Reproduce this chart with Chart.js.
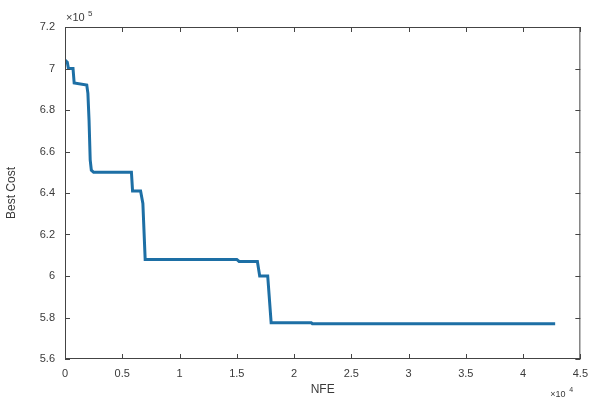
<!DOCTYPE html>
<html>
<head>
<meta charset="utf-8">
<script src="https://cdn.jsdelivr.net/npm/chart.js@4"></script>
<style>
  html, body { margin: 0; padding: 0; background: #fff; }
  #wrap { width: 596px; height: 401px; position: relative; }
</style>
</head>
<body>
<div id="wrap"><canvas id="costChart"></canvas></div>
<script>
// NFE in units of 1e4, best cost in units of 1e5
const nfe = [0, 0.02, 0.03, 0.07, 0.08, 0.19, 0.20, 0.21, 0.22, 0.23, 0.25, 0.58, 0.59, 0.66, 0.68, 0.70, 1.50, 1.52, 1.68, 1.70, 1.77, 1.80, 2.15, 2.16, 4.28];
const bestCost = [7.04, 7.03, 7.0, 7.0, 6.93, 6.92, 6.88, 6.75, 6.56, 6.51, 6.5, 6.5, 6.41, 6.41, 6.35, 6.08, 6.08, 6.07, 6.07, 6.0, 6.0, 5.775, 5.775, 5.77, 5.77];
const xTicks = [0, 0.5, 1, 1.5, 2, 2.5, 3, 3.5, 4, 4.5];
const yTicks = [5.6, 5.8, 6, 6.2, 6.4, 6.6, 6.8, 7, 7.2];

const textColor = '#3a3a3a';
const axisColor = '#444';
const font = { family: 'Liberation Sans, Arial, sans-serif', size: 11 };

// box round the plot with inward ticks on all four sides
const matlabBox = {
    id: 'matlabBox',
    afterDraw(chart) {
        const c = chart.ctx;
        const a = chart.chartArea;
        const xs = chart.scales.x, ys = chart.scales.y;
        c.save();
        c.strokeStyle = axisColor;
        c.lineWidth = 1;
        c.strokeRect(a.left + 0.5, a.top + 0.5, a.right - a.left - 1, a.bottom - a.top - 1);
        c.beginPath();
        xTicks.forEach(v => {
            const px = Math.round(xs.getPixelForValue(v)) + 0.5;
            c.moveTo(px, a.bottom); c.lineTo(px, a.bottom - 5);
            c.moveTo(px, a.top); c.lineTo(px, a.top + 5);
        });
        yTicks.forEach(v => {
            const py = Math.round(ys.getPixelForValue(v)) + 0.5;
            c.moveTo(a.left, py); c.lineTo(a.left + 5, py);
            c.moveTo(a.right, py); c.lineTo(a.right - 5, py);
        });
        c.stroke();

        c.fillStyle = textColor;
        c.font = '11px ' + font.family;
        c.textBaseline = 'alphabetic';
        c.textAlign = 'left';
        c.fillText('\u00d710', a.left + 1, a.top - 6);
        c.font = '8px ' + font.family;
        c.fillText('5', a.left + 23, a.top - 11);
        c.font = '9px ' + font.family;
        c.fillText('\u00d710', a.right - 30, a.bottom + 38);
        c.font = '7px ' + font.family;
        c.fillText('4', a.right - 11, a.bottom + 33);
        c.restore();
    }
};

new Chart(document.getElementById('costChart'), {
    type: 'line',
    data: {
        datasets: [{
            label: 'Best Cost',
            data: nfe.map((x, i) => ({ x: x, y: bestCost[i] })),
            borderColor: '#1d6fa5',
            borderWidth: 3,
            pointRadius: 0,
            tension: 0,
            fill: false,
        }],
    },
    options: {
        responsive: true,
        maintainAspectRatio: false,
        animation: false,
        layout: { padding: { top: 27, right: 9, left: 0, bottom: 0 } },
        plugins: { legend: { display: false }, tooltip: { enabled: false } },
        scales: {
            x: {
                type: 'linear',
                min: 0,
                max: 4.5,
                afterBuildTicks: s => { s.ticks = xTicks.map(v => ({ value: v })); },
                afterFit: s => { s.height = 42; },
                grid: { display: false, drawTicks: false },
                border: { display: false },
                ticks: { color: textColor, font: font, padding: 8, maxRotation: 0, callback: v => String(v) },
                title: { display: true, text: 'NFE', color: textColor, font: { family: font.family, size: 12 }, padding: { top: 0 } },
            },
            y: {
                type: 'linear',
                min: 5.6,
                max: 7.2,
                afterBuildTicks: s => { s.ticks = yTicks.map(v => ({ value: v })); },
                afterFit: s => { s.width = 65; },
                grid: { display: false, drawTicks: false },
                border: { display: false },
                ticks: { color: textColor, font: font, padding: 10, callback: v => String(v) },
                title: { display: true, text: 'Best Cost', color: textColor, font: { family: font.family, size: 12 }, padding: { bottom: 4 } },
            },
        },
    },
    plugins: [matlabBox],
});
</script>
</body>
</html>
